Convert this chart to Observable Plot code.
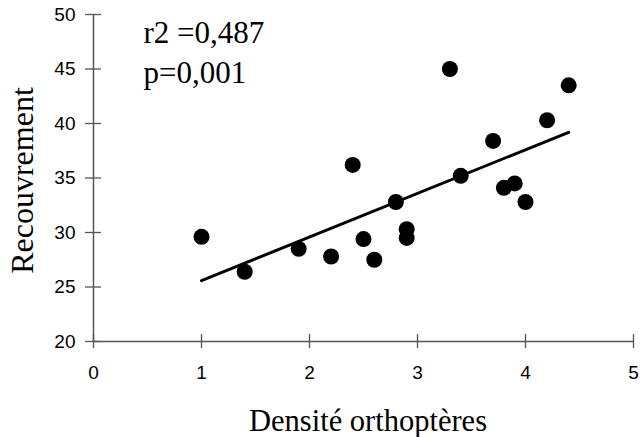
<!DOCTYPE html>
<html>
<head>
<meta charset="utf-8">
<script src="https://cdn.jsdelivr.net/npm/d3@7"></script>
<script src="https://cdn.jsdelivr.net/npm/@observablehq/plot@0.6"></script>
<style>
  html, body { margin: 0; padding: 0; background: #fff; }
  #chart svg { display: block; }
</style>
</head>
<body>
<div id="chart"></div>
<script>
const densite = [1.0, 1.4, 1.9, 2.2, 2.4, 2.5, 2.6, 2.8, 2.9, 2.9, 3.3, 3.4, 3.7, 3.8, 3.9, 4.0, 4.2, 4.4];
const recouvrement = [29.6, 26.4, 28.5, 27.8, 36.2, 29.4, 27.5, 32.8, 30.3, 29.5, 45.0, 35.2, 38.4, 34.1, 34.5, 32.8, 40.3, 43.5];
const xTicks = [0, 1, 2, 3, 4, 5];
const yTicks = [20, 25, 30, 35, 40, 45, 50];
const statsLines = ["r2 =0,487", "p=0,001"];
const xLabel = "Densité orthoptères";
const yLabel = "Recouvrement";

const data = densite.map((d, i) => ({x: d, y: recouvrement[i]}));

const serif = "'Liberation Serif', 'Times New Roman', Times, serif";
const sans = "'Liberation Sans', Arial, Helvetica, sans-serif";
const axisColor = "#555";
const fmt = d3.format("d");
const xMin = 0, yMin = 20;

const chart = Plot.plot({
  width: 642,
  height: 437,
  marginLeft: 93,
  marginRight: 9,
  marginTop: 14,
  marginBottom: 96,
  style: {background: "#fff", color: "#000"},
  x: {domain: [0, 5], ticks: xTicks, tickFormat: fmt},
  y: {domain: [20, 50], ticks: yTicks, tickFormat: fmt},
  marks: [
    // tick marks crossing the axes
    Plot.ruleY(yTicks, {y: d => d, x1: xMin, x2: xMin, insetLeft: -8, insetRight: -8, stroke: axisColor, strokeWidth: 1.3}),
    Plot.ruleX(xTicks, {x: d => d, y1: yMin, y2: yMin, insetTop: -7, insetBottom: -7, stroke: axisColor, strokeWidth: 1.3}),
    // tick labels
    Plot.axisY({ticks: yTicks, tickSize: 0, tickPadding: 18, tickFormat: fmt, fontSize: 19, fontFamily: sans, label: null}),
    Plot.axisX({ticks: xTicks, tickSize: 0, tickPadding: 24, tickFormat: fmt, fontSize: 19, fontFamily: sans, label: null}),
    // axis lines
    Plot.ruleX([xMin], {stroke: axisColor, strokeWidth: 1.5}),
    Plot.ruleY([yMin], {stroke: axisColor, strokeWidth: 1.5}),
    // regression line
    Plot.linearRegressionY(data, {x: "x", y: "y", ci: 0, stroke: "black", strokeWidth: 3}),
    // points
    Plot.dot(data, {x: "x", y: "y", r: 8, fill: "black", stroke: "none"}),
    // stats text
    Plot.text([statsLines[0]], {frameAnchor: "top-left", textAnchor: "start", lineAnchor: "bottom", dx: 50, dy: 28, fontSize: 31, fontFamily: serif, fill: "black"}),
    Plot.text([statsLines[1]], {frameAnchor: "top-left", textAnchor: "start", lineAnchor: "bottom", dx: 50, dy: 68, fontSize: 31, fontFamily: serif, fill: "black"}),
    // axis titles
    Plot.text([xLabel], {frameAnchor: "bottom", textAnchor: "middle", lineAnchor: "bottom", dx: 4.5, dy: 89, fontSize: 30.5, fontFamily: serif, fill: "black"}),
    Plot.text([yLabel], {frameAnchor: "left", textAnchor: "middle", lineAnchor: "bottom", rotate: -90, dx: -61, dy: 2.5, fontSize: 32, fontFamily: serif, fill: "black"})
  ]
});

document.getElementById("chart").appendChild(chart);
</script>
</body>
</html>
